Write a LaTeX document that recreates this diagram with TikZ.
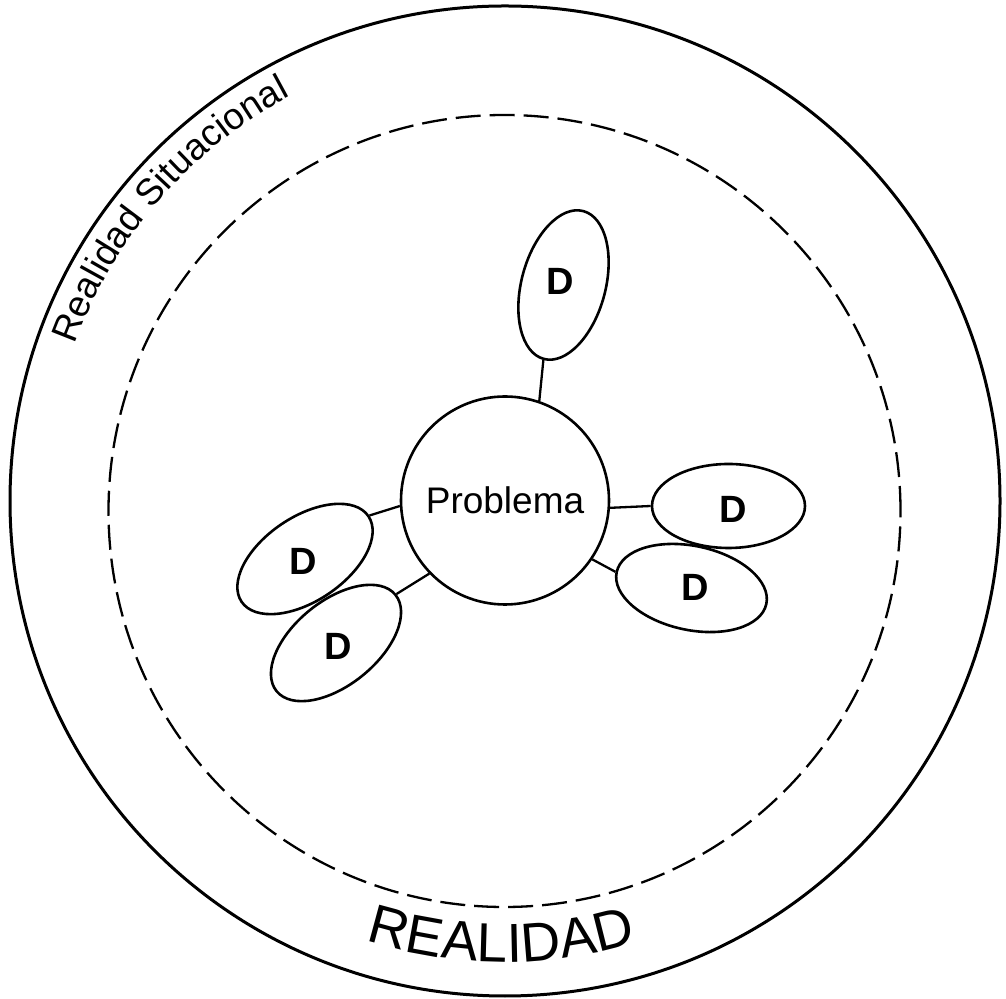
\documentclass[tikz,border=0pt]{standalone}
\usepackage{fontspec}
\setmainfont{Liberation Sans}
\usetikzlibrary{shapes.geometric, decorations.text}

\begin{document}
\begin{tikzpicture}[x=1pt, y=1pt, line width=2.3pt,
    dnode/.style={ellipse, draw, line width=2.6pt, minimum width=153pt,
      minimum height=84pt, inner sep=0pt},
    dlabel/.style={font=\fontsize{38}{40}\selectfont\bfseries, inner sep=0pt}]
  \useasboundingbox (0,0) rectangle (1006,998);
  \draw[line width=3pt] (505,497) circle[radius=495pt];
  \draw[dash pattern=on 25pt off 9pt] (504.5,487) circle[radius=396pt];
  \path[decorate, decoration={text along path, text align=center,
      text={|\fontsize{37}{40}\selectfont|Realidad Situacional}}]
    ([shift={(505,497)}]181:458) arc[start angle=181, end angle=97, radius=458pt];
  \path[decorate, decoration={text along path, text align=center,
      text={|\fontsize{55}{60}\selectfont|REALIDAD}}]
    ([shift={(505,497)}]239.5:461) arc[start angle=239.5, end angle=299.5, radius=461pt];

  \node[circle, draw, line width=2.6pt, minimum size=208pt, inner sep=0pt,
    font=\fontsize{37}{40}\selectfont] (prob) at (505,497.5) {Problema};

  \foreach \n/\x/\y/\r/\tx/\ty in {dtop/563.5/713/75/560/716.3,
      dr1/728.5/492/0/733/489, dr2/691.5/410/-12/695/411,
      dl1/305/439/34/303/436.3, dl2/336/355/39/338.3/351.3} {
    \node[dnode, rotate=\r] (\n) at (\x,\y) {};
    \node[dlabel] (\n-d) at (\tx,\ty) {D};
  }
  \foreach \a/\n/\s in {71.8/dtop/west, 356.6/dr1/west, 326.8/dr2/west,
      183.3/dl1/east, 224.5/dl2/east}
    \draw (prob.\a) -- (\n.\s);
\end{tikzpicture}
\end{document}
